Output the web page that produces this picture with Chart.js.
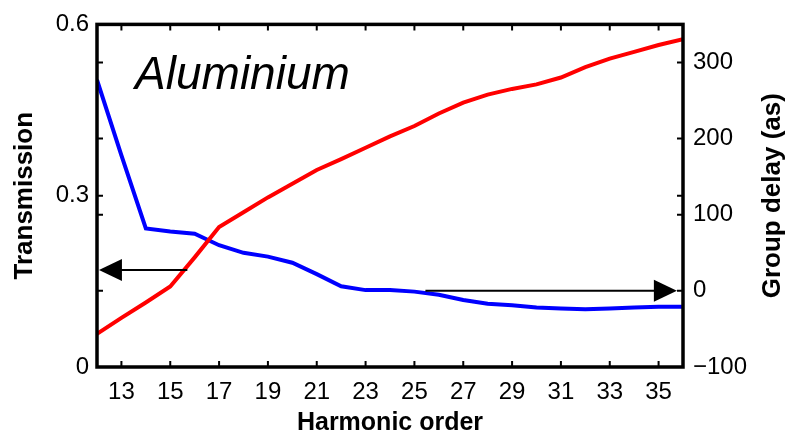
<!DOCTYPE html>
<html>
<head>
<meta charset="utf-8">
<title>Aluminium</title>
<script src="https://cdn.jsdelivr.net/npm/chart.js@4.4.0/dist/chart.umd.min.js"></script>
<style>
    html, body { margin: 0; padding: 0; background: #fff; }
</style>
</head>
<body>
<canvas id="grafico" width="790" height="438"></canvas>
<script>
// harmonic orders and the two measured curves
const harmonics = [12, 13, 14, 15, 16, 17, 18, 19, 20, 21, 22, 23, 24, 25, 26, 27, 28, 29, 30, 31, 32, 33, 34, 35, 36];
const transmission = [0.058, 0.086, 0.113, 0.141, 0.192, 0.245, 0.271, 0.297, 0.321, 0.345, 0.364, 0.384, 0.404, 0.422, 0.444, 0.463, 0.477, 0.487, 0.495, 0.507, 0.525, 0.540, 0.552, 0.564, 0.574];
const groupDelay = [277, 178, 82, 78, 75, 60, 50, 45, 37, 22, 6, 1, 1, -1, -5, -12, -17, -19, -22, -23, -24, -23, -22, -21, -21];

// tick labels
const ticksX = [13, 15, 17, 19, 21, 23, 25, 27, 29, 31, 33, 35];
const ticksTrans = [0, 0.3, 0.6];
const ticksDelay = [-100, 0, 100, 200, 300];

// arrows telling which curve goes with which axis: [from harmonic, to harmonic, value]
const arrowTrans = [15.7, 12.08, 0.17];
const arrowDelay = [25.45, 35.75, 0];

Chart.defaults.font.family = "'Liberation Sans', Arial, Helvetica, sans-serif";
Chart.defaults.color = '#000';

function puntos(ys) {
    return harmonics.map((h, i) => ({ x: h, y: ys[i] }));
}

function flecha(ctx, x0, x1, y) {
    const dir = Math.sign(x1 - x0);
    ctx.beginPath();
    ctx.moveTo(x0, y);
    ctx.lineTo(x1 - dir * 20, y);
    ctx.stroke();
    ctx.beginPath();
    ctx.moveTo(x1, y);
    ctx.lineTo(x1 - dir * 23, y - 11);
    ctx.lineTo(x1 - dir * 23, y + 11);
    ctx.closePath();
    ctx.fill();
}

// frame, inward ticks on all four sides, arrows and labels
const marcoPlugin = {
    id: 'marco',
    afterDatasetsDraw(chart) {
        const { ctx, chartArea: a, scales } = chart;
        const x = scales.x, yT = scales.yT, yG = scales.yG;
        ctx.save();
        ctx.strokeStyle = '#000';
        ctx.fillStyle = '#000';
        ctx.lineWidth = 2;
        ctx.beginPath();
        ticksX.forEach(v => {
            const px = x.getPixelForValue(v);
            ctx.moveTo(px, a.bottom); ctx.lineTo(px, a.bottom - 6);
            ctx.moveTo(px, a.top); ctx.lineTo(px, a.top + 6);
        });
        const ys = ticksTrans.map(v => yT.getPixelForValue(v))
            .concat(ticksDelay.map(v => yG.getPixelForValue(v)));
        ys.forEach(py => {
            ctx.moveTo(a.left, py); ctx.lineTo(a.left + 6, py);
            ctx.moveTo(a.right, py); ctx.lineTo(a.right - 6, py);
        });
        ctx.stroke();

        ctx.lineWidth = 3.5;
        ctx.strokeRect(a.left, a.top, a.right - a.left, a.bottom - a.top);

        ctx.lineWidth = 2;
        flecha(ctx, x.getPixelForValue(arrowTrans[0]), x.getPixelForValue(arrowTrans[1]), yT.getPixelForValue(arrowTrans[2]));
        flecha(ctx, x.getPixelForValue(arrowDelay[0]), x.getPixelForValue(arrowDelay[1]), yG.getPixelForValue(arrowDelay[2]));

        ctx.font = "italic 46px 'Liberation Sans', Arial, sans-serif";
        ctx.textBaseline = 'alphabetic';
        ctx.textAlign = 'left';
        ctx.fillText('Aluminium', x.getPixelForValue(13.56), yT.getPixelForValue(0.487));

        // right axis title reads bottom to top
        ctx.font = "bold 26px 'Liberation Sans', Arial, sans-serif";
        ctx.textAlign = 'center';
        ctx.textBaseline = 'middle';
        ctx.translate(chart.width - 17, (a.top + a.bottom) / 2);
        ctx.rotate(-Math.PI / 2);
        ctx.fillText('Group delay (as)', 0, 0);
        ctx.restore();
    }
};

const grafico = new Chart(document.getElementById('grafico').getContext('2d'), {
    type: 'line',
    data: {
        datasets: [{
            label: 'Transmission',
            data: puntos(transmission),
            yAxisID: 'yT',
            borderColor: '#ff0000',
            borderWidth: 4,
            pointRadius: 0,
            tension: 0
        }, {
            label: 'Group delay',
            data: puntos(groupDelay),
            yAxisID: 'yG',
            borderColor: '#0000ff',
            borderWidth: 4,
            pointRadius: 0,
            tension: 0
        }]
    },
    options: {
        responsive: false,
        animation: false,
        devicePixelRatio: 1,
        layout: { padding: { top: 17, left: 0, right: 0, bottom: 0 } },
        plugins: { legend: { display: false }, tooltip: { enabled: false } },
        scales: {
            x: {
                type: 'linear',
                min: 12,
                max: 36,
                grid: { display: false, drawTicks: false },
                border: { display: false },
                ticks: { font: { size: 24 }, padding: 11, maxRotation: 0, autoSkip: false },
                title: { display: true, text: 'Harmonic order', font: { size: 25, weight: 'bold' }, padding: { top: 0, bottom: 0 } },
                afterBuildTicks: s => { s.ticks = ticksX.map(v => ({ value: v })); },
                afterFit: s => { s.height = 71; }
            },
            yT: {
                type: 'linear',
                position: 'left',
                min: 0,
                max: 0.6,
                grid: { display: false, drawTicks: false },
                border: { display: false },
                ticks: { font: { size: 24 }, padding: 8, callback: v => String(v) },
                title: { display: true, text: 'Transmission', font: { size: 26, weight: 'bold' }, padding: { top: 9, bottom: 0 } },
                afterBuildTicks: s => { s.ticks = ticksTrans.map(v => ({ value: v })); },
                afterFit: s => { s.width = 97; }
            },
            yG: {
                type: 'linear',
                position: 'right',
                min: -100,
                max: 350,
                grid: { display: false, drawTicks: false },
                border: { display: false },
                ticks: { font: { size: 24 }, padding: 10, callback: v => v < 0 ? '\u2212' + Math.abs(v) : String(v) },
                afterBuildTicks: s => { s.ticks = ticksDelay.map(v => ({ value: v })); },
                afterFit: s => { s.width = 107; }
            }
        }
    },
    plugins: [marcoPlugin]
});
</script>
</body>
</html>
